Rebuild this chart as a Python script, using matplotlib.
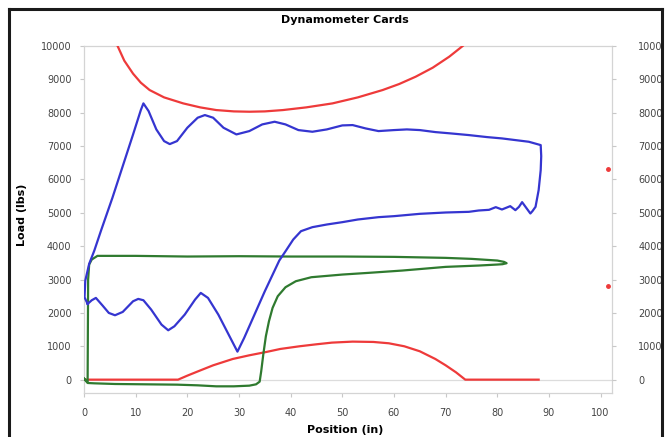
import matplotlib
matplotlib.use("Agg")
import matplotlib.pyplot as plt
from matplotlib.patches import Rectangle
from matplotlib.lines import Line2D

# ---------------- data ----------------
# Surface card (blue) - closed loop
blue_x = [0.7, 0.1, 0.25, 1.0, 2.0, 3.3, 5.5, 7.5, 9.5, 11.0, 11.5, 12.5, 14.0, 15.5, 16.6,
          18.0, 20.0, 22.0, 23.4, 25.0, 27.0, 29.5, 32.0, 34.5, 36.9, 39.0, 41.5, 44.2,
          47.0, 50.0, 52.0, 54.5, 57.0, 60.0, 62.5, 65.0, 68.0, 71.0, 74.5, 78.0, 80.9,
          83.5, 86.1, 88.4, 88.5, 88.4, 88.0, 87.4, 86.8, 86.4, 85.6, 84.8, 84.2, 83.5,
          82.5, 81.7, 80.9, 79.7, 78.4, 76.4, 74.5, 70.0, 65.0, 60.0, 57.0, 53.0, 50.0,
          47.0, 44.2, 42.0, 40.5, 39.1, 37.8, 35.0, 33.0, 31.0, 29.7, 28.0, 26.0, 24.0,
          22.6, 21.5, 19.5, 17.5, 16.3, 15.0, 13.0, 11.5, 10.5, 9.5, 7.5, 6.0, 4.8,
          3.6, 2.3, 1.5, 0.7]
blue_y = [2270, 2470, 2970, 3470, 3870, 4470, 5450, 6400, 7350, 8080, 8280, 8050, 7500, 7150, 7060,
          7150, 7550, 7850, 7930, 7850, 7550, 7350, 7450, 7650, 7730, 7650, 7480, 7430,
          7500, 7620, 7630, 7530, 7450, 7480, 7500, 7480, 7420, 7380, 7330, 7270, 7230,
          7180, 7130, 7030, 6700, 6280, 5680, 5180, 5050, 4980, 5150, 5320, 5180, 5080,
          5200, 5150, 5100, 5170, 5090, 5070, 5030, 5010, 4970, 4900, 4870, 4800, 4720,
          4650, 4570, 4450, 4200, 3870, 3570, 2650, 1950, 1250, 840, 1350, 1950, 2450,
          2600, 2400, 1950, 1600, 1480, 1650, 2100, 2380, 2420, 2350, 2030, 1930, 2000,
          2220, 2450, 2380, 2270]

# Downhole card (green) - closed loop
green_x = [0.0, 0.7, 0.75, 0.8, 1.0, 1.5, 2.6, 10.0, 20.0, 30.0, 40.0, 50.0, 60.0, 70.0, 75.0,
           80.0, 81.3, 81.8, 81.0, 80.0, 76.4, 70.0, 61.6, 55.0, 50.0, 44.0, 41.0, 39.0,
           37.5, 36.5, 35.8, 35.2, 34.7, 34.3, 34.0, 33.3, 32.0, 29.0, 25.6, 22.0, 18.0,
           12.0, 6.0, 2.0, 0.7, 0.0]
green_y = [30, -60, 1500, 3000, 3450, 3600, 3710, 3710, 3690, 3700, 3690, 3690, 3680, 3650, 3620,
           3570, 3530, 3490, 3460, 3450, 3420, 3380, 3270, 3200, 3150, 3070, 2950, 2770,
           2500, 2150, 1750, 1300, 750, 250, -60, -140, -180, -200, -200, -170, -150,
           -140, -130, -110, -100, 30]

# Limit curves (red)
red_low_x = [0.0, 18.2, 20.0, 22.4, 25.0, 28.8, 32.0, 35.3, 38.0, 41.7, 45.0, 48.0, 52.0, 56.0,
             59.0, 62.0, 65.0, 68.0, 70.0, 72.0, 73.8, 88.0]
red_low_y = [0, 0, 120, 270, 430, 620, 730, 830, 920, 1000, 1060, 1110, 1140, 1130,
             1090, 1000, 850, 620, 430, 220, 0, 0]

red_up_x = [6.5, 7.8, 9.5, 11.0, 12.7, 15.5, 19.2, 22.5, 25.6, 29.0, 32.0, 35.0, 38.5, 43.0,
            48.1, 53.0, 57.8, 61.0, 64.2, 67.5, 70.7, 73.3]
red_up_y = [10000, 9560, 9170, 8900, 8680, 8460, 8280, 8160, 8080, 8040, 8030, 8040, 8080, 8160,
            8280, 8460, 8680, 8860, 9080, 9350, 9680, 10000]

marker_x = [101.5, 101.5]
marker_y = [6300, 2800]

x_ticks = [0, 10, 20, 30, 40, 50, 60, 70, 80, 90, 100]
y_ticks = [0, 1000, 2000, 3000, 4000, 5000, 6000, 7000, 8000, 9000, 10000]

title = "Dynamometer Cards"
xlabel = "Position (in)"
ylabel = "Load (lbs)"

# ---------------- figure ----------------
W, H = 671, 437
fig = plt.figure(figsize=(W / 100, H / 100), dpi=100)
fig.patch.set_facecolor("white")

left_px, right_px, top_px, bot_px = 84, 612, 46, 393
ax = fig.add_axes([left_px / W, 1 - bot_px / H, (right_px - left_px) / W, (bot_px - top_px) / H])
ax.set_xlim(0, 102.2)
ax.set_ylim(-400, 10000)

blue = "#3535d0"
green = "#2f7a2f"
red = "#ee3a3a"

ax.axhline(0, color="#dcdcdc", lw=0.9, zorder=1)
ax.plot(red_low_x, red_low_y, color=red, lw=1.6, zorder=3)
ax.plot(red_up_x, red_up_y, color=red, lw=1.6, zorder=3)
ax.plot(green_x, green_y, color=green, lw=1.6, zorder=4)
ax.plot(blue_x, blue_y, color=blue, lw=1.6, zorder=5)
ax.plot(marker_x, marker_y, ls="none", marker="o", ms=2.5, color=red, clip_on=False, zorder=6)

for s in ax.spines.values():
    s.set_color("#d4d4d4")
    s.set_linewidth(0.9)

ax.set_xticks(x_ticks)
ax.set_yticks(y_ticks)
ax.tick_params(axis="both", which="major", length=3, width=0.8, color="#c8c8c8",
               labelsize=7, labelcolor="#444444", direction="out")
ax.tick_params(axis="y", pad=6)
ax.tick_params(axis="x", pad=8)

# right-hand axis (same scale)
ax2 = ax.twinx()
ax2.set_ylim(ax.get_ylim())
ax2.set_yticks(y_ticks)
ax2.tick_params(axis="y", length=3, width=0.8, color="#c8c8c8", labelsize=7,
                labelcolor="#444444", pad=16)
for s in ax2.spines.values():
    s.set_visible(False)

fig.text(345 / W, 1 - 20 / H, title, ha="center", va="center", fontsize=8, fontweight="bold")
fig.text(345 / W, 1 - 430 / H, xlabel, ha="center", va="center", fontsize=8, fontweight="bold")
fig.text(22 / W, 1 - 215 / H, ylabel, ha="center", va="center", rotation=90,
         fontsize=8, fontweight="bold")

# outer dark frame (left, top, right), white margin outside
fig.patches.append(Rectangle((663 / W, 0), 8 / W, 1, transform=fig.transFigure,
                             facecolor="white", edgecolor="none", zorder=20))
for xy in [([9 / W, 9 / W], [0, 1 - 9 / H]),
           ([9 / W, 662 / W], [1 - 9 / H, 1 - 9 / H]),
           ([662 / W, 662 / W], [1 - 9 / H, 0])]:
    fig.lines.append(Line2D(xy[0], xy[1], transform=fig.transFigure, color="#1a1a1a",
                            lw=2.2, zorder=21))

fig.savefig("out.png", dpi=100, facecolor="white")
